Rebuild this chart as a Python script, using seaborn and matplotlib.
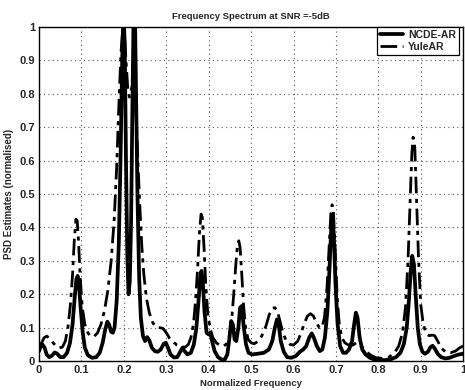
import matplotlib
matplotlib.use("Agg")
import matplotlib.pyplot as plt
import seaborn as sns
import pandas as pd

# ---- data ----
ncde_freq = [0.000, 0.004, 0.008, 0.013, 0.018, 0.024, 0.030, 0.037, 0.043, 0.050,
             0.058, 0.066, 0.073, 0.079, 0.084, 0.088, 0.091, 0.094, 0.098, 0.103,
             0.108, 0.115, 0.125, 0.135, 0.143, 0.150, 0.156, 0.161, 0.165, 0.170,
             0.174, 0.178, 0.183, 0.188, 0.192, 0.196, 0.199, 0.202, 0.205, 0.208,
             0.211, 0.214, 0.217, 0.220, 0.223, 0.226, 0.229, 0.232, 0.236, 0.240,
             0.245, 0.250, 0.255, 0.260, 0.266, 0.273, 0.280, 0.287, 0.294, 0.299,
             0.304, 0.310, 0.318, 0.326, 0.333, 0.338, 0.343, 0.350, 0.358, 0.365,
             0.371, 0.376, 0.380, 0.383, 0.386, 0.390, 0.395, 0.400, 0.404, 0.408,
             0.414, 0.422, 0.430, 0.438, 0.444, 0.449, 0.453, 0.457, 0.461, 0.465,
             0.470, 0.474, 0.478, 0.482, 0.488, 0.494, 0.502, 0.515, 0.530, 0.542,
             0.550, 0.556, 0.561, 0.565, 0.570, 0.577, 0.585, 0.595, 0.605, 0.615,
             0.623, 0.630, 0.637, 0.643, 0.648, 0.655, 0.662, 0.668, 0.674, 0.680,
             0.685, 0.689, 0.692, 0.695, 0.699, 0.704, 0.710, 0.717, 0.724, 0.731,
             0.738, 0.743, 0.747, 0.751, 0.756, 0.762, 0.770, 0.780, 0.790, 0.800,
             0.815, 0.830, 0.842, 0.852, 0.860, 0.867, 0.872, 0.877, 0.880, 0.884,
             0.888, 0.893, 0.898, 0.904, 0.910, 0.917, 0.923, 0.928, 0.933, 0.940,
             0.948, 0.958, 0.968, 0.978, 0.990, 1.000]
ncde_psd = [0.030, 0.045, 0.050, 0.040, 0.020, 0.012, 0.016, 0.026, 0.022, 0.012,
            0.012, 0.025, 0.055, 0.110, 0.190, 0.245, 0.255, 0.230, 0.160, 0.085,
            0.040, 0.018, 0.010, 0.012, 0.025, 0.055, 0.095, 0.118, 0.110, 0.088,
            0.085, 0.100, 0.180, 0.350, 0.600, 0.900, 1.050, 0.950, 0.600, 0.320,
            0.200, 0.240, 0.420, 0.750, 1.050, 1.050, 0.780, 0.500, 0.250, 0.130,
            0.075, 0.060, 0.072, 0.062, 0.040, 0.030, 0.028, 0.035, 0.052, 0.055,
            0.040, 0.020, 0.011, 0.012, 0.028, 0.040, 0.030, 0.020, 0.025, 0.050,
            0.100, 0.180, 0.250, 0.270, 0.240, 0.150, 0.085, 0.080, 0.085, 0.060,
            0.030, 0.012, 0.005, 0.005, 0.020, 0.070, 0.120, 0.110, 0.065, 0.060,
            0.100, 0.160, 0.165, 0.110, 0.050, 0.025, 0.020, 0.022, 0.025, 0.035,
            0.060, 0.100, 0.125, 0.110, 0.060, 0.028, 0.012, 0.010, 0.015, 0.028,
            0.035, 0.045, 0.070, 0.083, 0.070, 0.045, 0.030, 0.035, 0.070, 0.150,
            0.280, 0.400, 0.430, 0.380, 0.230, 0.110, 0.045, 0.025, 0.025, 0.035,
            0.060, 0.110, 0.145, 0.130, 0.070, 0.035, 0.020, 0.010, 0.005, 0.003,
            0.003, 0.006, 0.012, 0.025, 0.050, 0.100, 0.180, 0.280, 0.315, 0.290,
            0.200, 0.100, 0.050, 0.028, 0.022, 0.028, 0.042, 0.046, 0.038, 0.022,
            0.012, 0.008, 0.010, 0.015, 0.020, 0.022]

yule_freq = [0.000, 0.006, 0.012, 0.018, 0.025, 0.033, 0.040, 0.048, 0.055, 0.062,
             0.068, 0.074, 0.079, 0.083, 0.087, 0.090, 0.093, 0.097, 0.102, 0.108,
             0.115, 0.122, 0.130, 0.138, 0.146, 0.154, 0.162, 0.170, 0.177, 0.183,
             0.188, 0.193, 0.197, 0.201, 0.205, 0.209, 0.213, 0.217, 0.221, 0.225,
             0.229, 0.233, 0.237, 0.242, 0.247, 0.253, 0.260, 0.268, 0.276, 0.285,
             0.292, 0.300, 0.308, 0.316, 0.325, 0.335, 0.345, 0.352, 0.358, 0.364,
             0.369, 0.374, 0.378, 0.382, 0.385, 0.389, 0.393, 0.398, 0.404, 0.410,
             0.418, 0.426, 0.434, 0.441, 0.448, 0.454, 0.459, 0.464, 0.468, 0.471,
             0.474, 0.478, 0.482, 0.487, 0.493, 0.500, 0.507, 0.515, 0.525, 0.535,
             0.543, 0.550, 0.556, 0.562, 0.568, 0.575, 0.583, 0.592, 0.600, 0.610,
             0.618, 0.626, 0.633, 0.640, 0.647, 0.654, 0.661, 0.667, 0.673, 0.679,
             0.684, 0.688, 0.691, 0.694, 0.698, 0.703, 0.708, 0.714, 0.721, 0.730,
             0.740, 0.748, 0.755, 0.763, 0.772, 0.782, 0.795, 0.810, 0.825, 0.838,
             0.848, 0.857, 0.864, 0.870, 0.875, 0.879, 0.882, 0.886, 0.890, 0.895,
             0.900, 0.906, 0.913, 0.920, 0.927, 0.933, 0.940, 0.948, 0.958, 0.970,
             0.982, 0.992, 1.000]
yule_psd = [0.040, 0.055, 0.070, 0.075, 0.068, 0.055, 0.045, 0.040, 0.042, 0.060,
            0.100, 0.170, 0.260, 0.360, 0.425, 0.420, 0.360, 0.250, 0.160, 0.110,
            0.085, 0.074, 0.074, 0.085, 0.110, 0.150, 0.210, 0.300, 0.420, 0.580,
            0.760, 0.920, 0.990, 0.980, 0.900, 0.820, 0.790, 0.810, 0.830, 0.800,
            0.730, 0.600, 0.480, 0.350, 0.260, 0.190, 0.145, 0.115, 0.102, 0.100,
            0.098, 0.085, 0.068, 0.058, 0.048, 0.043, 0.042, 0.050, 0.070, 0.110,
            0.180, 0.280, 0.380, 0.440, 0.430, 0.340, 0.230, 0.140, 0.095, 0.070,
            0.055, 0.047, 0.045, 0.050, 0.070, 0.120, 0.200, 0.290, 0.350, 0.360,
            0.340, 0.260, 0.170, 0.100, 0.065, 0.055, 0.052, 0.058, 0.075, 0.105,
            0.140, 0.158, 0.160, 0.150, 0.120, 0.085, 0.060, 0.050, 0.048, 0.060,
            0.085, 0.115, 0.135, 0.142, 0.135, 0.115, 0.100, 0.100, 0.130, 0.220,
            0.340, 0.440, 0.468, 0.450, 0.340, 0.190, 0.110, 0.070, 0.055, 0.048,
            0.048, 0.055, 0.050, 0.040, 0.028, 0.018, 0.010, 0.008, 0.012, 0.025,
            0.045, 0.085, 0.160, 0.300, 0.480, 0.620, 0.670, 0.640, 0.490, 0.300,
            0.170, 0.110, 0.082, 0.076, 0.078, 0.076, 0.060, 0.040, 0.028, 0.025,
            0.030, 0.040, 0.045]

x_ticks = [0, 0.1, 0.2, 0.3, 0.4, 0.5, 0.6, 0.7, 0.8, 0.9, 1]
x_tick_labels = ["0", "0.1", "0.2", "0.3", "0.4", "0.5", "0.6", "0.7", "0.8", "0.9", "1"]
y_ticks = [0, 0.1, 0.2, 0.3, 0.4, 0.5, 0.6, 0.7, 0.8, 0.9, 1]
y_tick_labels = ["0", "0.1", "0.2", "0.3", "0.4", "0.5", "0.6", "0.7", "0.8", "0.9", "1"]

title = "Frequency Spectrum at SNR =-5dB"
x_label = "Normalized Frequency"
y_label = "PSD Estimates (normalised)"
series_names = ["NCDE-AR", "YuleAR"]

# ---- style ----
sns.set_theme(style="white")
plt.rcParams["font.family"] = ["Liberation Sans", "DejaVu Sans"]
plt.rcParams["xtick.direction"] = "in"
plt.rcParams["ytick.direction"] = "in"

fig = plt.figure(figsize=(4.65, 3.9), dpi=100)
ax = fig.add_axes([0.084, 0.074, 0.912, 0.857])

df_n = pd.DataFrame({"f": ncde_freq, "v": ncde_psd})
df_y = pd.DataFrame({"f": yule_freq, "v": yule_psd})

sns.lineplot(data=df_y, x="f", y="v", ax=ax, color="black", linewidth=2.0,
             linestyle=(0, (6, 2, 1.5, 2)), sort=False, estimator=None,
             label=series_names[1])
sns.lineplot(data=df_n, x="f", y="v", ax=ax, color="black", linewidth=2.7,
             sort=False, estimator=None, label=series_names[0])

ax.set_xlim(0, 1)
ax.set_ylim(0, 1)
ax.set_xticks(x_ticks)
ax.set_xticklabels(x_tick_labels)
ax.set_yticks(y_ticks)
ax.set_yticklabels(y_tick_labels)
ax.tick_params(axis="both", labelsize=8, length=3, color="black", pad=3)
for lbl in ax.get_xticklabels() + ax.get_yticklabels():
    lbl.set_fontweight("bold")

ax.grid(True, linestyle=(0, (1, 3)), color="#555555", linewidth=0.8)
for s in ax.spines.values():
    s.set_color("black")
    s.set_linewidth(1.0)

ax.set_title(title, fontsize=6.8, fontweight="bold", pad=6)
ax.set_xlabel(x_label, fontsize=6.8, fontweight="bold", labelpad=3)
ax.set_ylabel(y_label, fontsize=7, fontweight="bold", labelpad=4)

handles, labels = ax.get_legend_handles_labels()
order = [labels.index(series_names[0]), labels.index(series_names[1])]
leg = ax.legend([handles[i] for i in order], [labels[i] for i in order],
                loc="upper right", bbox_to_anchor=(0.99, 1.0),
                fontsize=7.5, frameon=True, fancybox=False,
                edgecolor="black", framealpha=1, borderpad=0.3,
                handlelength=2.2, handletextpad=0.5, labelspacing=0.2,
                borderaxespad=0.0)
leg.get_frame().set_linewidth(0.9)
for t in leg.get_texts():
    t.set_fontweight("bold")

fig.savefig("out.png", dpi=100)
